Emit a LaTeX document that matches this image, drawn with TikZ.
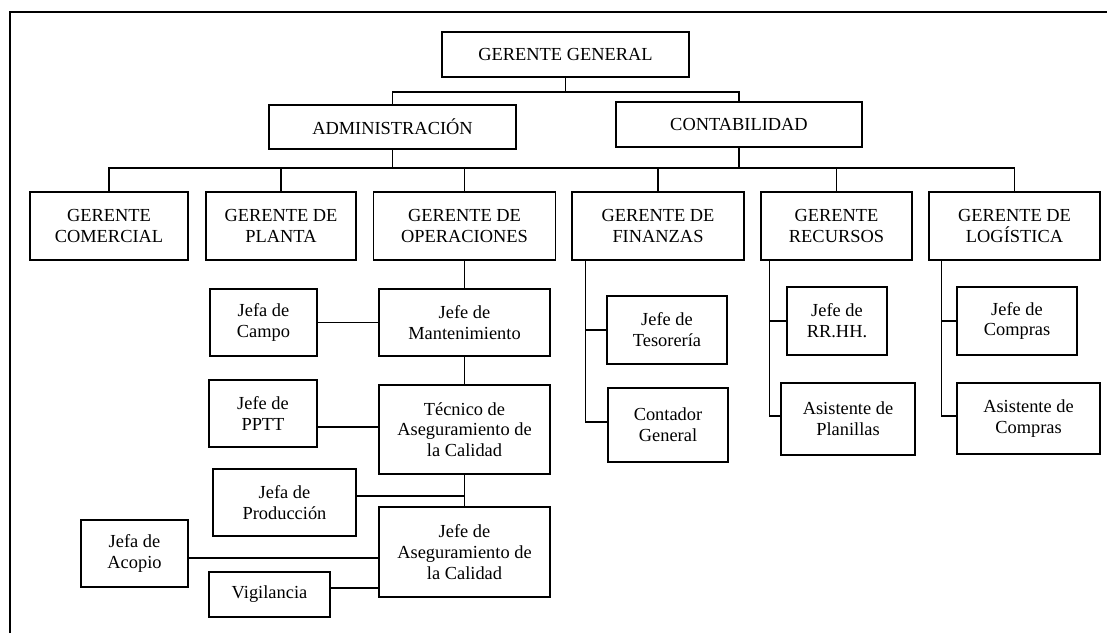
\documentclass[tikz,border=0pt]{standalone}
\usepackage{fontspec}
\setmainfont{Liberation Serif}
\begin{document}
\begin{tikzpicture}[x=1pt,y=-1pt,
  line width=1.3pt,
  org/.style={draw, line width=1.3pt, rectangle, inner sep=0pt, align=center,
    font=\fontsize{18.4}{20.8}\selectfont, minimum width=#1},
  org/.default=100pt,
  link/.style={draw, line width=1.3pt}]
\useasboundingbox (0,0) rectangle (1107,633);

% outer frame (left and top edges)
\draw[link] (10,633) -- (10,12) -- (1107,12);

% top levels
\node[org=247pt, minimum height=45pt] (gg)  at (565.5,54.5) {GERENTE GENERAL};
\node[org=247pt, minimum height=44pt] (adm) at (392.5,127)  {ADMINISTRACIÓN};
\node[org=246pt, minimum height=45pt] (con) at (739,124.5)  {CONTABILIDAD};

% managers row
\node[org=158pt, minimum height=68pt] (com) at (109,226)    {GERENTE\\COMERCIAL};
\node[org=150pt, minimum height=68pt] (pla) at (281,226)    {GERENTE DE\\PLANTA};
\node[org=182pt, minimum height=68pt] (ope) at (464.5,226)  {GERENTE DE\\OPERACIONES};
\node[org=172pt, minimum height=68pt] (fin) at (658,226)    {GERENTE DE\\FINANZAS};
\node[org=151pt, minimum height=68pt] (rec) at (836.5,226)  {GERENTE\\RECURSOS};
\node[org=171pt, minimum height=68pt] (log) at (1014.5,226) {GERENTE DE\\LOGÍSTICA};

% operations branch
\node[org=171pt, minimum height=67pt] (mant)  at (464.5,322.5) {Jefe de\\Mantenimiento};
\node[org=107pt, minimum height=67pt] (campo) at (263.5,322.5) {Jefa de\\Campo};
\node[org=171pt, minimum height=89pt] (tec)   at (464.5,429.5) {Técnico de\\Aseguramiento de\\la Calidad};
\node[org=108pt, minimum height=67pt] (pptt)  at (263,413.5)   {Jefe de\\PPTT};
\node[org=143pt, minimum height=67pt] (prod)  at (284.5,502.5) {Jefa de\\Producción};
\node[org=171pt, minimum height=90pt] (jac)   at (464.5,552)   {Jefe de\\Aseguramiento de\\la Calidad};
\node[org=107pt, minimum height=67pt] (aco)   at (134.5,553.5) {Jefa de\\Acopio};
\node[org=121pt, minimum height=45pt] (vig)   at (269.5,594.5) {Vigilancia};

% finance branch
\node[org=120pt, minimum height=68pt] (tes)  at (667,330) {Jefe de\\Tesorería};
\node[org=120pt, minimum height=74pt] (cont) at (668,425) {Contador\\General};

% human resources branch
\node[org=100pt, minimum height=68pt] (rrhh) at (837,321) {Jefe de\\RR.HH.};
\node[org=134pt, minimum height=72pt] (plan) at (848,419) {Asistente de\\Planillas};

% logistics branch
\node[org=120pt, minimum height=68pt] (jcom) at (1017,321)    {Jefe de\\Compras};
\node[org=143pt, minimum height=71pt] (acom) at (1028.5,418.5) {Asistente de\\Compras};

% connectors: top levels
\coordinate (b1) at (0,92);
\coordinate (b2) at (0,168);
\draw[link] (gg.south) -- (gg.south |- b1);
\draw[link] (adm.north) |- (con.north |- b1) -- (con.north);
\draw[link] (adm.south) -- (adm.south |- b2);
\draw[link] (con.south) -- (con.south |- b2);
\draw[link] (com.north) |- (log.north |- b2) -- (log.north);
\draw[link] (pla.north) -- (pla.north |- b2);
\draw[link] (ope.north) -- (ope.north |- b2);
\draw[link] (fin.north) -- (fin.north |- b2);
\draw[link] (rec.north) -- (rec.north |- b2);

% connectors: operations
\draw[link] (ope.south) -- (mant.north);
\draw[link] (mant.south) -- (tec.north);
\draw[link] (tec.south) -- (jac.north);
\draw[link] (campo.east) -- (mant.west);
\draw[link] (pptt.east |- 0,427) -- (tec.west |- 0,427);
\draw[link] (prod.east |- 0,496) -- (tec.south |- 0,496);
\draw[link] (aco.east |- 0,558) -- (jac.west |- 0,558);
\draw[link] (vig.east |- 0,588) -- (jac.west |- 0,588);

% connectors: finance
\draw[link] ([xshift=14pt]fin.south west) |- (cont.west |- 0,422);
\draw[link] ([xshift=14pt]fin.south west |- tes.west) -- (tes.west);

% connectors: human resources
\draw[link] ([xshift=9pt]rec.south west) |- (plan.west |- 0,416);
\draw[link] ([xshift=9pt]rec.south west |- rrhh.west) -- (rrhh.west);

% connectors: logistics
\draw[link] ([xshift=13pt]log.south west) |- (acom.west |- 0,416);
\draw[link] ([xshift=13pt]log.south west |- jcom.west) -- (jcom.west);
\end{tikzpicture}
\end{document}
